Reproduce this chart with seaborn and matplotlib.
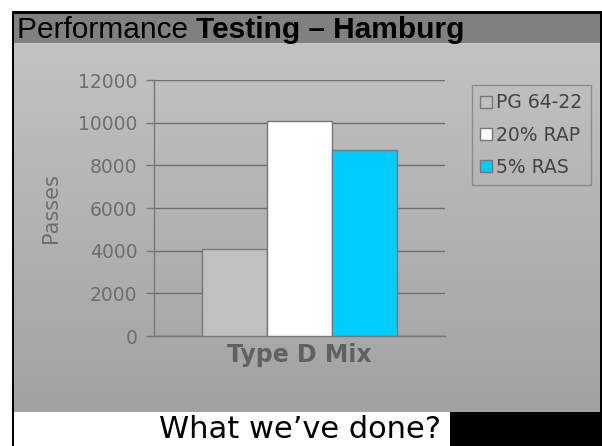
import numpy as np
import pandas as pd
import matplotlib
matplotlib.use("Agg")
import matplotlib.pyplot as plt
from matplotlib.patches import Rectangle
import seaborn as sns

categories = ["Type D Mix"]
series = ["PG 64-22", "20% RAP", "5% RAS"]
values = [4080, 10100, 8700]
colors = ["#C0C0C0", "#FFFFFF", "#00CCFF"]
yticks = [0, 2000, 4000, 6000, 8000, 10000, 12000]

df = pd.DataFrame({"mix": categories * len(series), "series": series, "passes": values})

sns.set_style("white")
plt.rcParams["font.family"] = ["DejaVu Sans"]

W, H = 602, 446
fig = plt.figure(figsize=(W / 100, H / 100), dpi=100)
fig.patch.set_facecolor("white")

# background decoration axes (pixel coordinates)
bg = fig.add_axes([0, 0, 1, 1])
bg.set_xlim(0, W)
bg.set_ylim(H, 0)
bg.axis("off")
grad = np.linspace(0, 1, 256).reshape(-1, 1)
cmap = matplotlib.colors.LinearSegmentedColormap.from_list("g", ["#C2C2C2", "#A2A2A2"])
bg.imshow(grad, cmap=cmap, extent=[13, 600, 412, 43], aspect="auto", zorder=0)
bg.add_patch(Rectangle((13, 13), 587, 30, facecolor="#808080", edgecolor="none", zorder=1))
bg.add_patch(Rectangle((11.5, 11), 2.5, H - 11, facecolor="black", edgecolor="none", zorder=2))
bg.add_patch(Rectangle((11.5, 11), W - 11.5, 2.5, facecolor="black", edgecolor="none", zorder=2))
bg.add_patch(Rectangle((600, 11), 2, 401, facecolor="black", edgecolor="none", zorder=2))
bg.add_patch(Rectangle((450, 412), W - 450, H - 412, facecolor="black", edgecolor="none", zorder=2))
bg.set_zorder(0)

t1 = bg.text(17, 30, "Performance ", fontsize=21.5, family="Liberation Sans", va="center", ha="left", color="black")
fig.canvas.draw()
bb = t1.get_window_extent()
x_end = bb.x1
bg.text(x_end, 30, "Testing \u2013 Hamburg", fontsize=21.5, family="Liberation Sans",
        fontweight="bold", va="center", ha="left", color="black")

bg.text(300, 430, "What we\u2019ve done?", fontsize=22, va="center", ha="center", color="black")

# main chart axes
left, right, top, bottom = 154, 445, 80, 336
ax = fig.add_axes([left / W, 1 - bottom / H, (right - left) / W, (bottom - top) / H])
ax.set_zorder(1)
ax.patch.set_alpha(0)

sns.barplot(data=df, x="mix", y="passes", hue="series", hue_order=series,
            palette=colors, width=0.67, edgecolor="#777777", linewidth=1,
            saturation=1, ax=ax, zorder=3)

ax.set_ylim(0, 12000)
ax.set_xlim(-0.5, 0.5)
ax.set_yticks(yticks)
ax.set_yticklabels([str(v) for v in yticks], fontsize=13.5, color="#6E6E6E")
ax.grid(False)
for v in yticks:
    ax.axhline(v, color="#6E6E6E", lw=1, zorder=1)
ax.tick_params(axis="y", direction="out", length=6, width=1, color="#777777", pad=6, left=True)
ax.set_xticks([0])
ax.set_xticklabels(categories, fontsize=17, fontweight="bold", color="#616161")
ax.tick_params(axis="x", length=0, pad=5)
ax.set_xticks([-0.5, 0.5], minor=True)
ax.tick_params(axis="x", which="minor", direction="out", length=5, width=1, color="#777777")
ax.set_xlabel("")
ax.set_ylabel("Passes", fontsize=15, color="#6E6E6E", labelpad=12)
for s in ["top", "right"]:
    ax.spines[s].set_visible(False)
for s in ["left", "bottom"]:
    ax.spines[s].set_color("#777777")
    ax.spines[s].set_linewidth(1)

handles, labels = ax.get_legend_handles_labels()
leg = ax.legend(handles, labels, loc="upper left",
                bbox_to_anchor=(472 / W, 1 - 85 / H), bbox_transform=fig.transFigure,
                frameon=True, fancybox=False, fontsize=13.5, handlelength=0.6, handleheight=0.6,
                handletextpad=0.25, labelspacing=0.7, borderpad=0.45, borderaxespad=0,
                edgecolor="#808080", facecolor="none", title=None)
leg.get_frame().set_linewidth(1)
for t in leg.get_texts():
    t.set_color("#444444")

fig.savefig("out.png", dpi=100)
